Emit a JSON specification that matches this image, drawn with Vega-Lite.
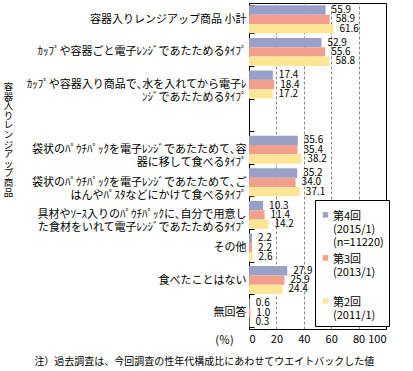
{
  "$schema": "https://vega.github.io/schema/vega-lite/v6.json",
  "width": 137,
  "height": 326,
  "autosize": {"type": "none"},
  "padding": {"left": 249, "top": 3, "right": 27, "bottom": 42},
  "background": "white",
  "config": {"font": "Noto Sans CJK JP", "view": {"stroke": "black", "strokeWidth": 1}},
  "title": {"text": "注）過去調査は、今回調査の性年代構成比にあわせてウエイトバックした値", "orient": "bottom", "anchor": "middle", "frame": "bounds", "fontSize": 10, "fontWeight": "normal", "offset": 12, "dx": 8, "color": "black"},
  "data": {"values": [
    {"item": "容器入りレンジアップ商品 小計", "survey": "第4回\n(2015/1)\n(n=11220)", "value": 55.9},
    {"item": "容器入りレンジアップ商品 小計", "survey": "第3回\n(2013/1)", "value": 58.9},
    {"item": "容器入りレンジアップ商品 小計", "survey": "第2回\n(2011/1)", "value": 61.6},
    {"item": "ｶｯﾌﾟや容器ごと電子ﾚﾝｼﾞであたためるﾀｲﾌﾟ", "survey": "第4回\n(2015/1)\n(n=11220)", "value": 52.9},
    {"item": "ｶｯﾌﾟや容器ごと電子ﾚﾝｼﾞであたためるﾀｲﾌﾟ", "survey": "第3回\n(2013/1)", "value": 55.6},
    {"item": "ｶｯﾌﾟや容器ごと電子ﾚﾝｼﾞであたためるﾀｲﾌﾟ", "survey": "第2回\n(2011/1)", "value": 58.8},
    {"item": "ｶｯﾌﾟや容器入り商品で､水を入れてから電子ﾚ\nﾝｼﾞであたためるﾀｲﾌﾟ　　　　　", "survey": "第4回\n(2015/1)\n(n=11220)", "value": 17.4},
    {"item": "ｶｯﾌﾟや容器入り商品で､水を入れてから電子ﾚ\nﾝｼﾞであたためるﾀｲﾌﾟ　　　　　", "survey": "第3回\n(2013/1)", "value": 18.4},
    {"item": "ｶｯﾌﾟや容器入り商品で､水を入れてから電子ﾚ\nﾝｼﾞであたためるﾀｲﾌﾟ　　　　　", "survey": "第2回\n(2011/1)", "value": 17.2},
    {"item": "袋状のﾊﾟｳﾁﾊﾟｯｸを電子ﾚﾝｼﾞであたためて､容\n器に移して食べるﾀｲﾌﾟ　　　　　　", "survey": "第4回\n(2015/1)\n(n=11220)", "value": 35.6},
    {"item": "袋状のﾊﾟｳﾁﾊﾟｯｸを電子ﾚﾝｼﾞであたためて､容\n器に移して食べるﾀｲﾌﾟ　　　　　　", "survey": "第3回\n(2013/1)", "value": 35.4},
    {"item": "袋状のﾊﾟｳﾁﾊﾟｯｸを電子ﾚﾝｼﾞであたためて､容\n器に移して食べるﾀｲﾌﾟ　　　　　　", "survey": "第2回\n(2011/1)", "value": 38.2},
    {"item": "袋状のﾊﾟｳﾁﾊﾟｯｸを電子ﾚﾝｼﾞであたためて､ご\nはんやﾊﾟｽﾀなどにかけて食べるﾀｲﾌﾟ　　", "survey": "第4回\n(2015/1)\n(n=11220)", "value": 35.2},
    {"item": "袋状のﾊﾟｳﾁﾊﾟｯｸを電子ﾚﾝｼﾞであたためて､ご\nはんやﾊﾟｽﾀなどにかけて食べるﾀｲﾌﾟ　　", "survey": "第3回\n(2013/1)", "value": 34.0},
    {"item": "袋状のﾊﾟｳﾁﾊﾟｯｸを電子ﾚﾝｼﾞであたためて､ご\nはんやﾊﾟｽﾀなどにかけて食べるﾀｲﾌﾟ　　", "survey": "第2回\n(2011/1)", "value": 37.1},
    {"item": "具材やｿｰｽ入りのﾊﾟｳﾁﾊﾟｯｸに､自分で用意し\nた食材をいれて電子ﾚﾝｼﾞであたためるﾀｲﾌﾟ", "survey": "第4回\n(2015/1)\n(n=11220)", "value": 10.3},
    {"item": "具材やｿｰｽ入りのﾊﾟｳﾁﾊﾟｯｸに､自分で用意し\nた食材をいれて電子ﾚﾝｼﾞであたためるﾀｲﾌﾟ", "survey": "第3回\n(2013/1)", "value": 11.4},
    {"item": "具材やｿｰｽ入りのﾊﾟｳﾁﾊﾟｯｸに､自分で用意し\nた食材をいれて電子ﾚﾝｼﾞであたためるﾀｲﾌﾟ", "survey": "第2回\n(2011/1)", "value": 14.2},
    {"item": "その他", "survey": "第4回\n(2015/1)\n(n=11220)", "value": 2.2},
    {"item": "その他", "survey": "第3回\n(2013/1)", "value": 2.2},
    {"item": "その他", "survey": "第2回\n(2011/1)", "value": 2.6},
    {"item": "食べたことはない", "survey": "第4回\n(2015/1)\n(n=11220)", "value": 27.9},
    {"item": "食べたことはない", "survey": "第3回\n(2013/1)", "value": 25.9},
    {"item": "食べたことはない", "survey": "第2回\n(2011/1)", "value": 24.4},
    {"item": "無回答", "survey": "第4回\n(2015/1)\n(n=11220)", "value": 0.6},
    {"item": "無回答", "survey": "第3回\n(2013/1)", "value": 1.0},
    {"item": "無回答", "survey": "第2回\n(2011/1)", "value": 0.3}
  ]},
  "encoding": {
    "y": {
      "field": "item", "type": "nominal",
      "scale": {"domain": [
        "容器入りレンジアップ商品 小計",
        "ｶｯﾌﾟや容器ごと電子ﾚﾝｼﾞであたためるﾀｲﾌﾟ",
        "ｶｯﾌﾟや容器入り商品で､水を入れてから電子ﾚ\nﾝｼﾞであたためるﾀｲﾌﾟ　　　　　",
        " ",
        "袋状のﾊﾟｳﾁﾊﾟｯｸを電子ﾚﾝｼﾞであたためて､容\n器に移して食べるﾀｲﾌﾟ　　　　　　",
        "袋状のﾊﾟｳﾁﾊﾟｯｸを電子ﾚﾝｼﾞであたためて､ご\nはんやﾊﾟｽﾀなどにかけて食べるﾀｲﾌﾟ　　",
        "具材やｿｰｽ入りのﾊﾟｳﾁﾊﾟｯｸに､自分で用意し\nた食材をいれて電子ﾚﾝｼﾞであたためるﾀｲﾌﾟ",
        "その他",
        "食べたことはない",
        "無回答"
      ], "paddingInner": 0.14, "paddingOuter": 0.07},
      "axis": {
        "labelExpr": "split(datum.label, '\\n')",
        "labelFontSize": 11, "labelLineHeight": 13, "labelColor": "black",
        "labelAlign": "right", "labelBaseline": "middle", "labelPadding": 8, "labelLimit": 400,
        "tickBand": "extent", "ticks": true, "tickSize": -5, "tickColor": "black",
        "domainColor": "black",
        "title": ["容","器","入","り","レ","ン","ジ","ア","ッ","プ","商","品"],
        "titleAngle": 0, "titleX": -241, "titleY": 83.5, "titleFontSize": 9.5, "titleLineHeight": 9.6,
        "titleFontWeight": "normal", "titleBaseline": "middle", "titleAlign": "center", "titleColor": "black"
      }
    },
    "yOffset": {"field": "survey", "type": "nominal", "scale": {"domain": ["第4回\n(2015/1)\n(n=11220)", "第3回\n(2013/1)", "第2回\n(2011/1)"], "paddingInner": 0, "paddingOuter": 0}},
    "x": {
      "field": "value", "type": "quantitative",
      "scale": {"domain": [0, 100], "nice": false},
      "axis": {
        "values": [0, 20, 40, 60, 80, 100], "grid": true, "gridDash": [3, 2], "gridColor": "#8a8a8a",
        "gridOpacity": {"condition": {"test": "datum.value == 0 || datum.value == 100", "value": 0}, "value": 1},
        "ticks": false, "labelPadding": 4, "labelFontSize": 11, "labelColor": "black", "domainColor": "black",
        "title": "(％)", "titleX": -25, "titleY": 11, "titleAngle": 0, "titleBaseline": "middle", "titleAlign": "center",
        "titleFontWeight": "normal", "titleFontSize": 11, "titleColor": "black"
      }
    }
  },
  "layer": [
    {
      "mark": {"type": "bar"},
      "encoding": {
        "color": {
          "field": "survey", "type": "nominal",
          "scale": {"domain": ["第4回\n(2015/1)\n(n=11220)", "第3回\n(2013/1)", "第2回\n(2011/1)"], "range": ["#99A0C8", "#F0A08C", "#FFE696"]},
          "legend": {
            "orient": "none", "legendX": 66, "legendY": 197, "title": null,
            "labelExpr": "split(datum.label + (indexof(datum.label, '第3回') == 0 ? '\\n ' : ''), '\\n')",
            "labelFontSize": 11, "labelLineHeight": 13.5, "labelColor": "black", "labelBaseline": "top", "labelOffset": 2,
            "symbolType": "M-1,0.6H1V2.6H-1Z", "symbolSize": 30, "symbolStrokeWidth": 0,
            "strokeColor": "black", "fillColor": "white", "padding": 5, "rowPadding": 0
          }
        }
      }
    },
    {
      "mark": {"type": "text", "align": "left", "baseline": "middle", "dx": 6, "fontSize": 10, "color": "black"},
      "encoding": {"text": {"field": "value", "type": "quantitative", "format": ".1f"}}
    }
  ]
}
